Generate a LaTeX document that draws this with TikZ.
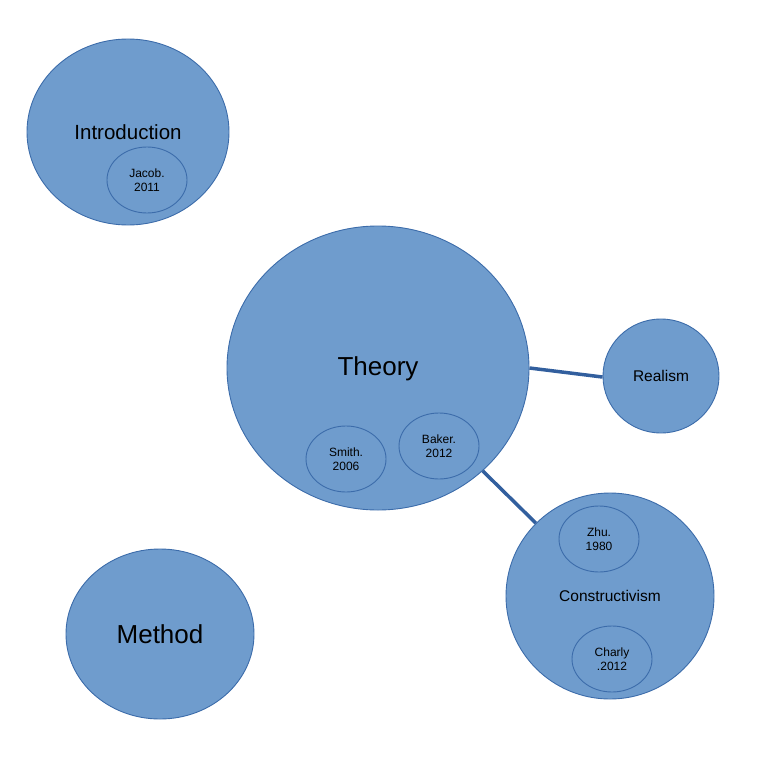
\documentclass[tikz,border=0pt]{standalone}
\usepackage{fontspec}
\setmainfont{Liberation Sans}
\usetikzlibrary{shapes.geometric}
\definecolor{bubfill}{RGB}{111,156,205}
\definecolor{bubline}{RGB}{60,108,170}
\definecolor{linkcol}{RGB}{50,95,158}
\tikzset{
  bubble/.style={ellipse, draw=bubline, fill=bubfill, line width=0.9pt, inner sep=0pt, align=center, text=black},
  small/.style={bubble, fill=none, minimum width=80pt, minimum height=66pt, font=\fontsize{12}{13.5}\selectfont},
  link/.style={draw=linkcol, line width=3.5pt}
}
\begin{document}
\begin{tikzpicture}[x=1pt,y=-1pt]
\useasboundingbox (0,0) rectangle (768,768);
\node[bubble, minimum width=202pt, minimum height=186pt, font=\fontsize{20.5}{24}\selectfont] (intro) at (128,132) {Introduction};
\node[small] (jacob) at (147,180) {Jacob.\\2011};
\node[bubble, minimum width=302pt, minimum height=284pt, font=\fontsize{26}{30}\selectfont] (theory) at (378,368) {};
\node[font=\fontsize{26}{30}\selectfont, inner sep=0pt] (theorytext) at (378,369) {Theory};
\node[small] (smith) at (346,459) {Smith.\\2006};
\node[small] (baker) at (439,446) {Baker.\\2012};
\node[bubble, minimum width=116pt, minimum height=114pt, font=\fontsize{15.5}{18}\selectfont] (realism) at (661,376) {Realism};
\node[bubble, minimum width=208pt, minimum height=206pt, font=\fontsize{15.5}{18}\selectfont] (constr) at (610,596) {Constructivism};
\node[small] (zhu) at (599,539) {Zhu.\\1980};
\node[small] (charly) at (612,659) {Charly\\.2012};
\node[bubble, minimum width=188pt, minimum height=170pt, font=\fontsize{26}{30}\selectfont] (method) at (160,634) {Method};
\draw[link] (theory.0) -- (realism.181);
\draw[link] (theory) -- (constr);
\end{tikzpicture}
\end{document}
